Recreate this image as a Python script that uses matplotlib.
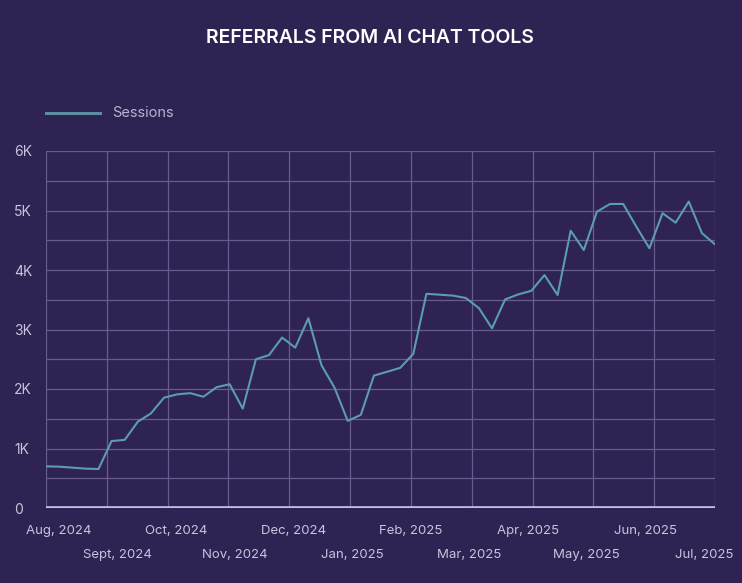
import matplotlib
matplotlib.use("Agg")
import matplotlib.pyplot as plt
import numpy as np

# weekly sessions, Aug 2024 -> Jul 2025
sessions = [700, 695, 678, 662, 655, 1125, 1145, 1450, 1590, 1855, 1910, 1930,
            1870, 2030, 2080, 1670, 2500, 2570, 2865, 2695, 3190, 2400, 2020,
            1465, 1565, 2225, 2290, 2355, 2590, 3600, 3585, 3570, 3530, 3360,
            3020, 3505, 3590, 3650, 3915, 3580, 4660, 4335, 4980, 5110, 5110,
            4730, 4365, 4955, 4795, 5150, 4620, 4430]
months = ["Aug, 2024", "Sept, 2024", "Oct, 2024", "Nov, 2024", "Dec, 2024",
          "Jan, 2025", "Feb, 2025", "Mar, 2025", "Apr, 2025", "May, 2025",
          "Jun, 2025", "Jul, 2025"]
y_ticks = [0, 1000, 2000, 3000, 4000, 5000, 6000]
y_labels = ["0", "1K", "2K", "3K", "4K", "5K", "6K"]

bg = "#2e2352"
grid_c = "#675c92"
text_c = "#c9c3dd"
line_c = "#5b9cb1"

plt.rcParams["font.family"] = ["Inter", "DejaVu Sans"]

fig = plt.figure(figsize=(7.42, 5.83), dpi=100, facecolor=bg)
ax = fig.add_axes([46 / 742, 75 / 583, 669 / 742, 357 / 583])
ax.set_facecolor(bg)

n = len(sessions)
x = np.arange(n)
ax.plot(x, sessions, color=line_c, lw=1.5, zorder=3)

ax.set_xlim(0, n - 1)
ax.set_ylim(0, 6000)

# month grid lines spread evenly over the week axis
month_pos = np.linspace(0, n - 1, len(months))
for mp in month_pos:
    ax.axvline(mp, color=grid_c, lw=0.9, zorder=1)
for yv in np.arange(500, 6001, 500):
    ax.axhline(yv, color=grid_c, lw=0.9, zorder=1)
ax.axhline(0, color="#c9bdf0", lw=2.6, zorder=4)

for s in ax.spines.values():
    s.set_visible(False)

ax.set_xticks([])
ax.set_yticks(y_ticks)
ax.set_yticklabels(y_labels, color=text_c, fontsize=10)
ax.tick_params(axis="y", length=0, pad=23)
for lab in ax.get_yticklabels():
    lab.set_horizontalalignment("left")

# staggered month labels
lab_pos = np.linspace(0.0187, 0.9836, len(months))
for i, (lp, m) in enumerate(zip(lab_pos, months)):
    yy = -0.064 if i % 2 == 0 else -0.132
    ax.text(lp, yy, m, transform=ax.transAxes, ha="center", va="center",
            color=text_c, fontsize=9.5)

fig.text(369.5 / 742, 1 - 38 / 583, "REFERRALS FROM AI CHAT TOOLS",
         ha="center", va="center", color="white", fontsize=14,
         fontweight="semibold")

# legend
ly = 1 - 113 / 583
fig.add_artist(plt.Line2D([46 / 742, 100 / 742], [ly, ly], color="#5a8fa2",
                          lw=2.2, transform=fig.transFigure))
fig.text(112 / 742, ly, "Sessions", ha="left", va="center", color="#b9b2d0",
         fontsize=10.5)

fig.savefig("out.png", dpi=100, facecolor=bg)
